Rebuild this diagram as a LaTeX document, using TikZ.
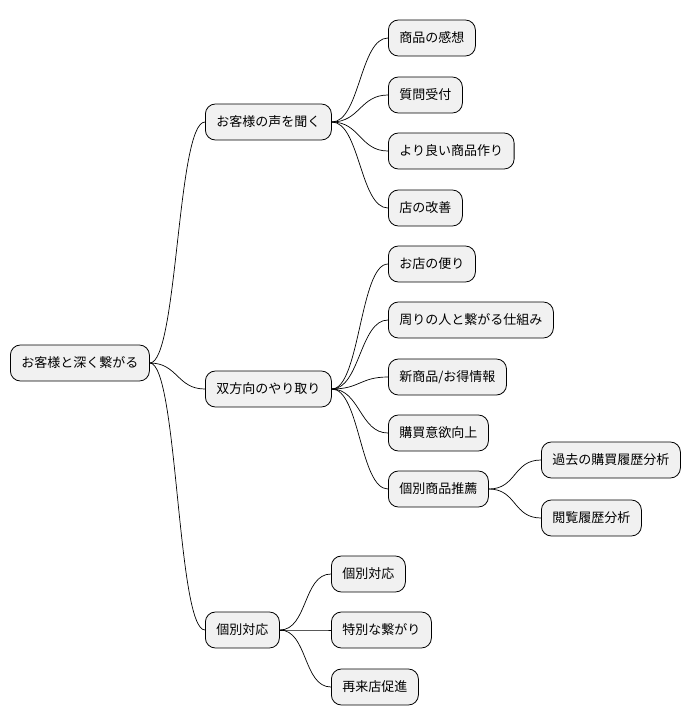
\documentclass[tikz,border=0pt]{standalone}
\usepackage{fontspec}
\newfontfamily\jpfont{Noto Sans CJK JP}
\usetikzlibrary{positioning}
\tikzset{
  topic/.style={draw=black, fill={rgb,255:red,241;green,241;blue,241}, rounded corners=10pt,
    minimum height=36pt, inner xsep=11pt, anchor=west, font=\jpfont\fontsize{13}{15}\selectfont, line width=0.8pt},
  link/.style={draw=black, line width=0.7pt}
}
\begin{document}
\begin{tikzpicture}[x=1pt,y=1pt,yscale=-1]
\useasboundingbox (0,0) rectangle (698,724);

% root
\node[topic] (root) at (10,363) {お客様と深く繋がる};

% first level
\node[topic] (voice) at (205,122) {お客様の声を聞く};
\node[topic] (talk) at (205,389) {双方向のやり取り};
\node[topic] (indiv) at (205,630) {個別対応};

% voice
\node[topic] (v1) at (388,38) {商品の感想};
\node[topic] (v2) at (388,95) {質問受付};
\node[topic] (v3) at (388,151) {より良い商品作り};
\node[topic] (v4) at (388,208) {店の改善};

% talk
\node[topic] (t1) at (388,264) {お店の便り};
\node[topic] (t2) at (388,320) {周りの人と繋がる仕組み};
\node[topic] (t3) at (388,377) {新商品/お得情報};
\node[topic] (t4) at (388,433) {購買意欲向上};
\node[topic] (t5) at (388,489) {個別商品推薦};
\node[topic] (r1) at (541,460) {過去の購買履歴分析};
\node[topic] (r2) at (541,518) {閲覧履歴分析};

% indiv
\node[topic] (i1) at (331,574) {個別対応};
\node[topic] (i2) at (331,630) {特別な繋がり};
\node[topic] (i3) at (331,687) {再来店促進};

% connectors
\foreach \p/\c in {root/voice,root/talk,root/indiv,
  voice/v1,voice/v2,voice/v3,voice/v4,
  talk/t1,talk/t2,talk/t3,talk/t4,talk/t5,
  t5/r1,t5/r2,indiv/i1,indiv/i2,indiv/i3}
  \draw[link] (\p.east) .. controls +(28,0) and +(-28,0) .. (\c.west);
\end{tikzpicture}
\end{document}
